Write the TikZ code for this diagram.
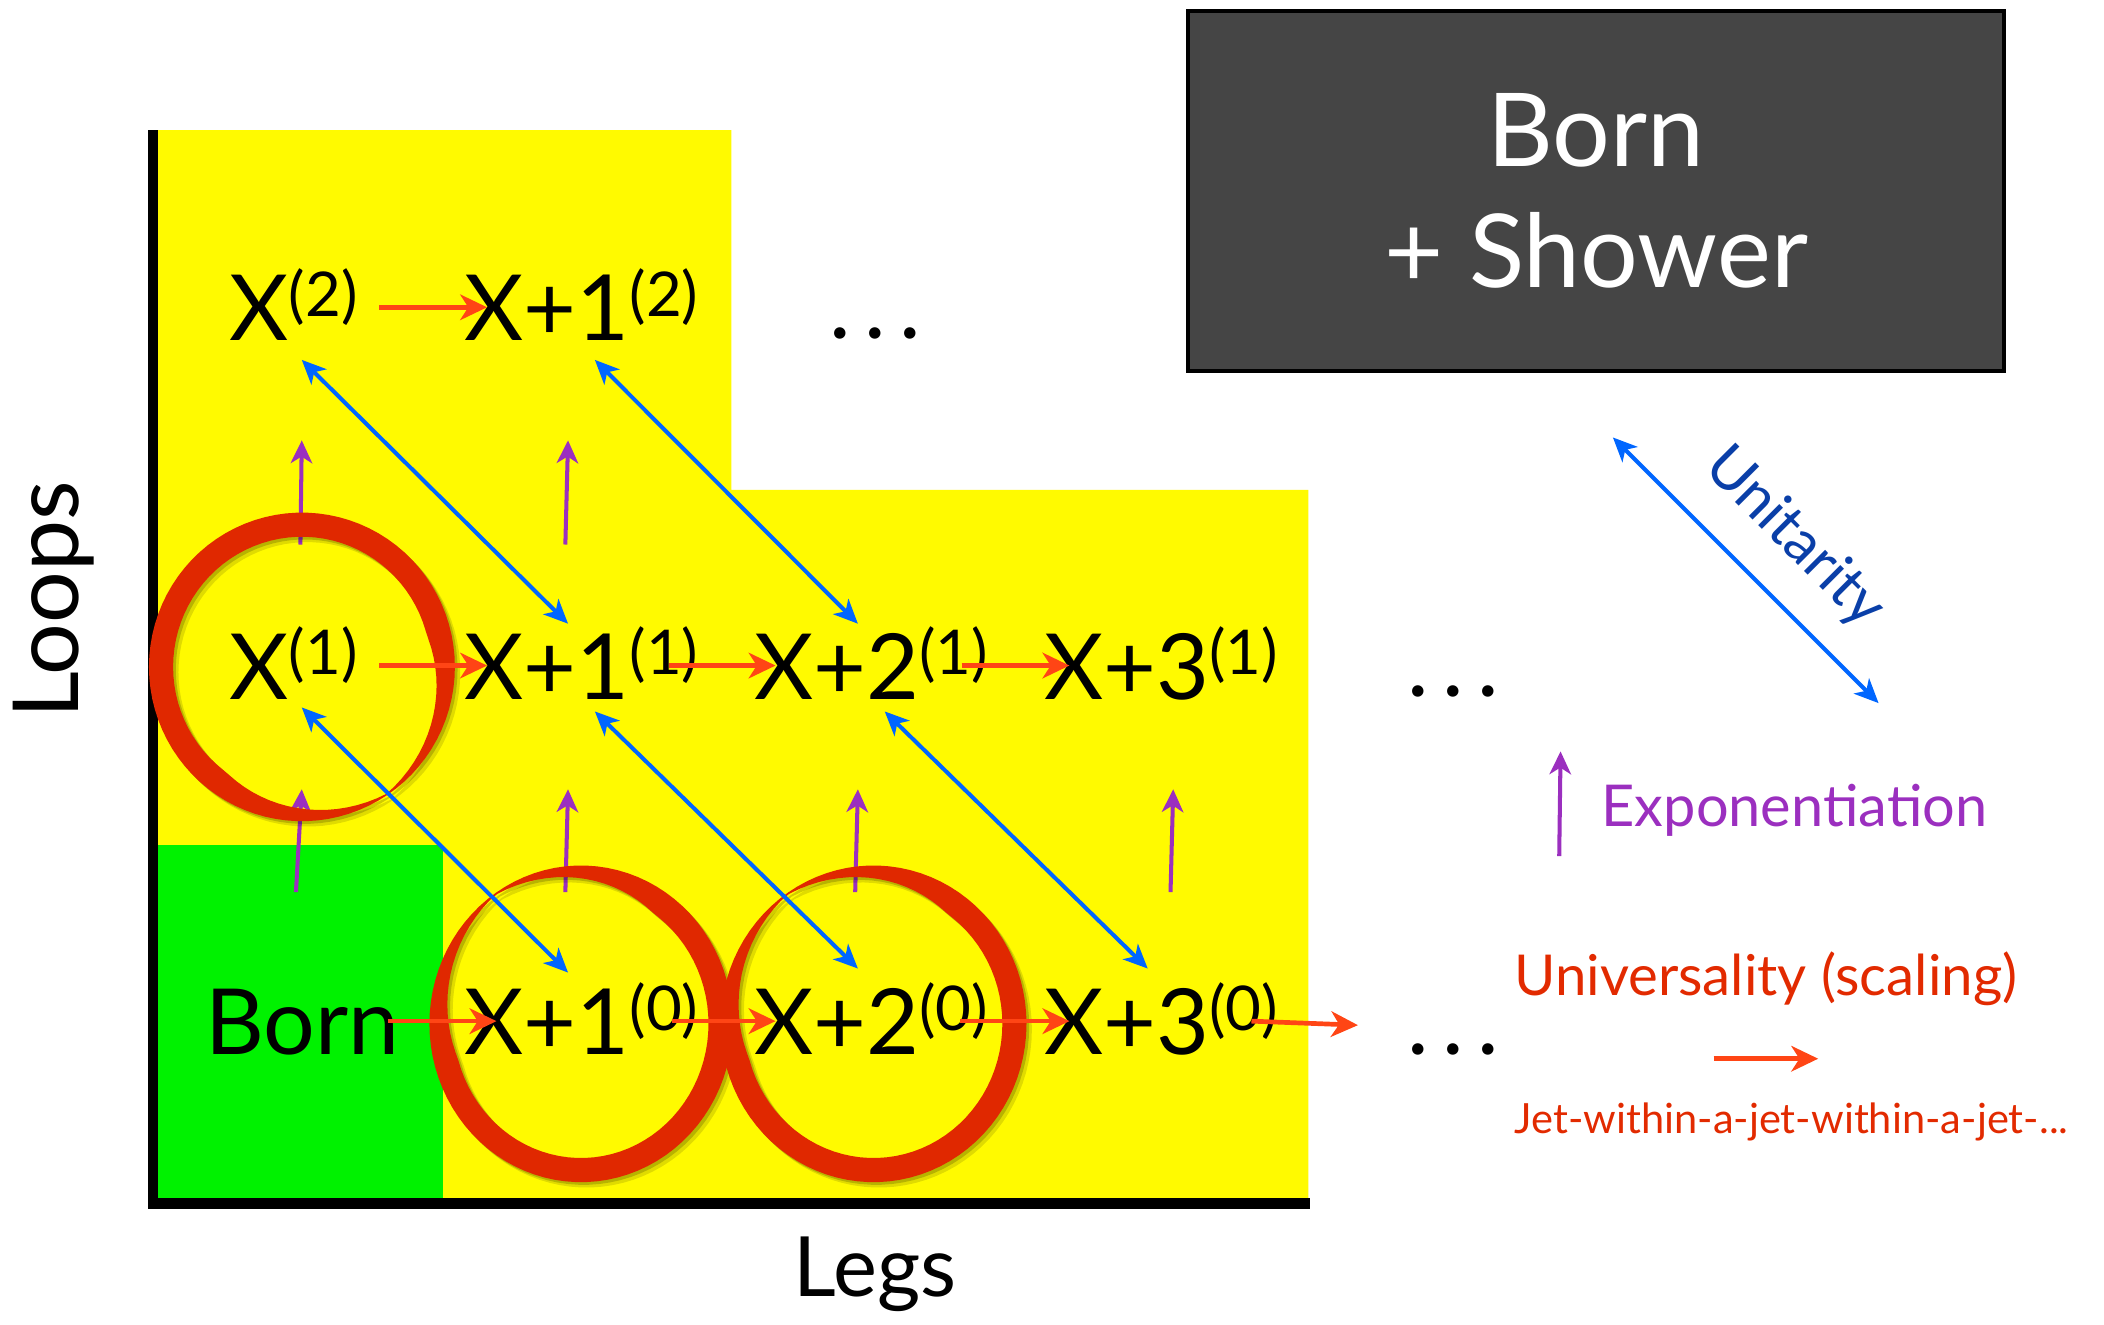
\documentclass[tikz,border=0pt]{standalone}
\usepackage{fontspec}
\setmainfont{Lato}
\usetikzlibrary{calc,positioning,arrows.meta}
\definecolor{ChartYellow}{HTML}{FFFA00}
\definecolor{BornGreen}{HTML}{00F200}
\definecolor{ShowerGray}{HTML}{454545}
\definecolor{RingRed}{HTML}{E02800}
\definecolor{ScaleRed}{HTML}{FF4515}
\definecolor{ScaleText}{HTML}{E22A00}
\definecolor{ExpoPurple}{HTML}{9B2FBF}
\definecolor{UniBlue}{HTML}{0066FF}
\definecolor{UniText}{HTML}{0A3FA8}

% X+n with its loop order
\newcommand{\amplitude}[2]{#1\raisebox{18pt}{\fontsize{46}{46}\selectfont(#2)}}
% spaced dots
\newcommand{\moredots}{.\hspace{10pt}.\hspace{10pt}.}

% red ring: centre, radii, angle of the thin spot
\newcommand{\loopring}[5]{%
  \foreach \dd/\op/\col in {4/.12/black,2/.18/black,0/1/RingRed}{
    \fill[\col,opacity=\op,shift={(\dd,\dd)}]
      plot[domain=0:360,samples=91] ({#1+#3*cos(\x)},{#2+#4*sin(\x)})
      -- plot[domain=360:0,samples=91]
        ({#1+(#3-1-17*min(1,abs(mod(\x-#5+540,360)-180)/70))*cos(\x)},
         {#2+(#4-1-17*min(1,abs(mod(\x-#5+540,360)-180)/70))*sin(\x)})
      -- cycle;
  }%
}

\tikzset{
  amp/.style={inner sep=0pt, anchor=base west, text height=50pt, text depth=0pt,
    font=\fontsize{68}{68}\selectfont},
  scalearrow/.style={draw=ScaleRed, line width=3.5pt,
    -{Stealth[length=20pt,width=19pt,inset=6pt]}},
  expoarrow/.style={draw=ExpoPurple, line width=3pt,
    -{Stealth[length=17pt,width=16pt,inset=5pt]}},
  uniarrow/.style={draw=UniBlue, line width=3pt,
    {Stealth[length=18pt,width=16pt,inset=5pt]}-{Stealth[length=18pt,width=16pt,inset=5pt]}}
}

\begin{document}
\begin{tikzpicture}[x=1pt,y=-1pt]
  \useasboundingbox (0,0) rectangle (1568,987);

  % chart area
  \fill[ChartYellow] (117,97) -- (545,97) -- (545,365) -- (975,365)
    -- (975,894) -- (117,894) -- cycle;
  \fill[BornGreen] (118,630) rectangle (330,893);
  \draw[line width=8pt] (114,97) -- (114,897) -- (976,897);

  \node[rotate=90, font=\fontsize{68}{68}\selectfont] (loopsaxis) at (40,447) {Loops};
  \node[font=\fontsize{62}{62}\selectfont] (legsaxis) at (652,950) {Legs};

  % amplitudes
  \node[amp] (x2)  at (171,254) {\amplitude{X}{2}};
  \node[amp] (x12) at (346,254) {\amplitude{X+1}{2}};
  \node[amp] (x1)  at (171,521) {\amplitude{X}{1}};
  \node[amp] (x11) at (346,521) {\amplitude{X+1}{1}};
  \node[amp] (x21) at (562,521) {\amplitude{X+2}{1}};
  \node[amp] (x31) at (778,521) {\amplitude{X+3}{1}};
  \node[amp] (born) at (153,786) {Born};
  \node[amp] (x10) at (346,786) {\amplitude{X+1}{0}};
  \node[amp] (x20) at (562,786) {\amplitude{X+2}{0}};
  \node[amp] (x30) at (778,786) {\amplitude{X+3}{0}};
  \node[amp, anchor=base] (dots2) at (652,252) {\moredots};
  \node[amp, anchor=base] (dots1) at (1083,519) {\moredots};
  \node[amp, anchor=base] (dots0) at (1083,786) {\moredots};

  % exponentiation
  \draw[expoarrow] ([xshift=5pt,yshift=65pt]x1.north) -- ([xshift=6pt,yshift=-74pt]x2.south);
  \draw[expoarrow] ([xshift=-12pt,yshift=65pt]x11.north) -- ([xshift=-10pt,yshift=-74pt]x12.south);
  \draw[expoarrow] ([xshift=-5pt,yshift=71pt]born.north) -- ([xshift=6pt,yshift=-67pt]x1.south);
  \draw[expoarrow] ([xshift=-12pt,yshift=71pt]x10.north) -- ([xshift=-10pt,yshift=-67pt]x11.south);
  \draw[expoarrow] ([xshift=-12pt,yshift=71pt]x20.north) -- ([xshift=-10pt,yshift=-67pt]x21.south);
  \draw[expoarrow] ([xshift=7pt,yshift=71pt]x30.north) -- ([xshift=9pt,yshift=-67pt]x31.south);

  \loopring{225}{497}{114}{115}{56}
  \loopring{433}{763}{113}{118}{235}
  \loopring{651}{763}{114}{118}{235}

  % unitarity
  \draw[uniarrow] ([xshift=6pt,yshift=-14pt]x2.south) -- ([xshift=-10pt,yshift=6pt]x11.north);
  \draw[uniarrow] ([xshift=10pt,yshift=-14pt]x12.south) -- ([xshift=-10pt,yshift=6pt]x21.north);
  \draw[uniarrow] ([xshift=6pt,yshift=-6pt]x1.south) -- ([xshift=-10pt,yshift=11pt]x10.north);
  \draw[uniarrow] ([xshift=10pt,yshift=-9pt]x11.south) -- ([xshift=-10pt,yshift=14pt]x20.north);
  \draw[uniarrow] ([xshift=10pt,yshift=-9pt]x21.south) -- ([xshift=-10pt,yshift=14pt]x30.north);

  % universality
  \coordinate (scaleEnd) at (1012,764);
  \draw[scalearrow] ([xshift=16pt]x2.east) -- ([xshift=17pt]x12.west);
  \draw[scalearrow] ([xshift=16pt]x1.east) -- ([xshift=17pt]x11.west);
  \draw[scalearrow] ([xshift=-22pt]x11.east) -- ([xshift=16pt]x21.west);
  \draw[scalearrow] ([xshift=-20pt]x21.east) -- ([xshift=19pt]x31.west);
  \draw[scalearrow] ([xshift=-9pt]born.east) -- ([xshift=24pt]x10.west);
  \draw[scalearrow] ([xshift=-20pt]x10.east) -- ([xshift=16pt]x20.west);
  \draw[scalearrow] ([xshift=-21pt]x20.east) -- ([xshift=19pt]x30.west);
  \draw[scalearrow] ([xshift=-20pt]x30.east) -- (scaleEnd);

  % parton shower box and legend
  \node[draw=black, line width=3pt, fill=ShowerGray, minimum width=608pt, minimum height=268pt,
    text=white, align=center, font=\fontsize{76}{90}\selectfont] (shower) at (1189.5,142.5)
    {Born\\+ Shower};

  \coordinate (uniA) at (1202,326);
  \coordinate (uniB) at (1400,524);
  \draw[uniarrow] (uniA) -- (uniB);
  \node[rotate=-45, text=UniText, font=\fontsize{44}{44}\selectfont] (unitext) at (1337,401) {Unitarity};

  \coordinate (expoA) at (1162,638);
  \coordinate (expoB) at (1163,560);
  \draw[expoarrow] (expoA) -- (expoB);
  \node[anchor=base west, text=ExpoPurple, font=\fontsize{43}{43}\selectfont] (expotext) at (1190,616) {Exponentiation};

  \node[anchor=base, text=ScaleText, font=\fontsize{42}{42}\selectfont] (scaletext) at (1316,742) {Universality (scaling)};
  \coordinate (scaleA) at (1277,789);
  \coordinate (scaleB) at (1355,789);
  \draw[scalearrow] (scaleA) -- (scaleB);
  \node[anchor=base, text=ScaleText, font=\fontsize{31}{31}\selectfont] (jettext) at (1335,845) {Jet-within-a-jet-within-a-jet-...};
\end{tikzpicture}
\end{document}
